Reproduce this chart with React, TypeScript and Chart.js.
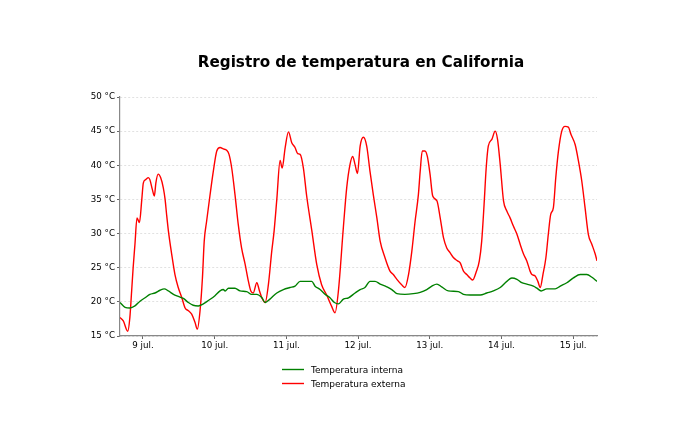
import { useEffect, useRef } from 'react';
import { Chart, registerables } from 'chart.js';

Chart.register(...registerables);

const titulo = 'Registro de temperatura en California';

// x values are hours since 9 jul. 00:00
const diasTicks = [0, 24, 48, 72, 96, 120, 144];
const diasEtiquetas = ['9 jul.', '10 jul.', '11 jul.', '12 jul.', '13 jul.', '14 jul.', '15 jul.'];

const yMin = 15;
const yMax = 50;
const yPaso = 5;

const internaHoras = [
  -7.7, -6.0, -4.4, -2.7, -1.0, 0.7, 2.3, 4.0, 5.7, 7.1, 8.5, 10.2, 11.8, 13.5, 15.2, 16.8, 18.5, 20.2, 21.9,
  24.1, 25.8, 26.9, 27.5, 28.6, 30.8, 32.5, 34.7, 36.4, 38.1, 39.8, 40.9, 42.5, 44.8, 47.0, 49.2, 50.9, 52.6,
  56.5, 57.6, 59.3, 61.0, 62.6, 64.1, 65.4, 67.1, 68.8, 71.0, 72.7, 74.3, 76.0, 77.7, 79.4, 81.6, 83.3, 85.0,
  87.7, 90.5, 92.8, 95.0, 96.7, 98.4, 100.0, 102.2, 105.6, 107.3, 109.5, 112.9, 115.1, 117.3, 119.6, 121.8,
  123.5, 125.2, 126.8, 128.5, 130.7, 131.9, 133.3, 135.2, 138.0, 139.7, 141.9, 144.1, 146.4, 148.6, 150.3, 152.0,
];
const internaTemp = [
  19.9, 19.2, 19.1, 19.4, 20.1, 20.6, 21.1, 21.3, 21.7, 21.9, 21.6, 21.1, 20.8, 20.5, 19.9, 19.5, 19.4, 19.7, 20.2,
  20.9, 21.6, 21.8, 21.6, 22.0, 22.0, 21.6, 21.5, 21.1, 21.1, 20.6, 19.9, 20.4, 21.3, 21.8, 22.1, 22.3, 23.0,
  23.0, 22.3, 21.8, 21.1, 20.6, 19.9, 19.7, 20.4, 20.6, 21.3, 21.8, 22.1, 23.0, 23.0, 22.6, 22.2, 21.8, 21.2,
  21.1, 21.2, 21.4, 21.8, 22.3, 22.6, 22.2, 21.6, 21.5, 21.1, 21.0, 21.0, 21.3, 21.6, 22.1, 23.0,
  23.5, 23.3, 22.8, 22.6, 22.3, 22.0, 21.6, 21.9, 21.9, 22.3, 22.8, 23.5, 24.0, 24.0, 23.6, 23.0,
];

const externaHoras = [
  -7.7, -6.6, -5.1, -4.4, -3.8, -3.3, -2.7, -2.0, -1.2, -0.4, 0.1, 0.9, 1.8, 2.3, 3.1, 3.8, 4.3, 5.1, 5.9, 6.8,
  7.4, 7.9, 8.5, 9.6, 10.7, 11.8, 13.0, 14.1, 15.2, 16.3, 17.4, 18.2, 19.1, 19.9, 20.5, 21.3, 22.4, 23.5,
  24.7, 25.8, 26.9, 28.0, 28.8, 29.7, 30.8, 31.9, 33.0, 34.2, 35.3, 36.1, 36.9, 38.1, 39.0, 39.8, 40.9, 42.0,
  43.1, 43.9, 44.8, 45.9, 46.6, 47.6, 48.7, 49.8, 50.9, 51.8, 52.6, 53.7, 54.8, 56.5, 58.2, 59.8, 61.5, 63.2,
  64.3, 65.4, 67.1, 68.2, 69.3, 70.2, 71.0, 71.8, 72.7, 73.8, 74.9, 76.0, 77.1, 78.3, 79.4, 81.0, 82.7, 83.8,
  85.0, 86.6, 87.7, 88.9, 90.0, 91.1, 92.2, 92.8, 93.5, 94.4, 95.2, 96.1, 97.0, 98.4, 99.5, 100.6, 101.7,
  102.8, 103.9, 105.3, 106.2, 107.3, 108.4, 109.5, 110.4, 111.5, 112.6, 113.4, 114.2, 114.9, 115.6, 116.8,
  117.9, 118.7, 119.6, 120.7, 121.8, 122.9, 124.0, 125.2, 126.3, 127.4, 128.5, 129.6, 130.2, 131.3, 132.2,
  133.0, 133.9, 134.9, 135.7, 136.5, 137.4, 138.2, 139.1, 140.2, 141.3, 142.4, 143.3, 144.7, 145.8, 146.9,
  148.0, 149.1, 150.3, 151.4, 152.0,
];
const externaTemp = [
  17.7, 17.2, 15.7, 17.7, 21.6, 25.0, 28.4, 32.3, 31.6, 35.0, 37.4, 37.9, 38.2, 37.9, 36.5, 35.5, 37.4, 38.7, 38.2, 36.7,
  35.0, 32.8, 30.4, 27.0, 24.0, 22.1, 20.6, 19.1, 18.7, 18.2, 17.0, 16.0, 18.7, 23.5, 28.9, 31.8, 35.5, 39.0,
  42.1, 42.6, 42.4, 42.2, 41.6, 39.6, 35.7, 31.3, 27.9, 25.5, 23.0, 21.6, 21.3, 22.8, 21.6, 20.6, 19.9, 22.6,
  27.4, 30.4, 35.0, 40.7, 39.6, 42.6, 44.9, 43.3, 42.6, 41.7, 41.6, 39.6, 35.5, 30.5, 25.4, 22.5, 21.0, 19.3,
  18.4, 21.5, 31.0, 36.7, 40.1, 41.3, 40.1, 38.8, 42.8, 44.1, 42.8, 39.1, 35.7, 32.3, 28.9, 26.5, 24.5, 24.0,
  23.3, 22.5, 22.1, 24.0, 27.4, 31.8, 35.7, 39.1, 42.1, 42.1, 41.3, 38.7, 35.5, 34.8, 32.3, 29.4, 27.9,
  27.2, 26.5, 26.0, 25.7, 24.5, 24.0, 23.5, 23.2, 24.3, 26.0, 28.9, 34.3, 39.6, 42.8, 43.8,
  45.0, 43.8, 40.1, 34.8, 33.3, 32.3, 31.1, 29.9, 28.4, 27.0, 26.0, 24.5, 24.0, 23.8, 23.0,
  22.1, 24.0, 26.5, 29.9, 32.8, 33.8, 38.2, 42.1, 45.0, 45.7, 45.6, 44.5, 43.0, 40.6, 37.7,
  33.8, 29.9, 28.4, 27.0, 26.0,
];

const series = [
  { label: 'Temperatura interna', horas: internaHoras, temp: internaTemp, color: '#008000' },
  { label: 'Temperatura externa', horas: externaHoras, temp: externaTemp, color: '#ff0000' },
];

const FONT = '"DejaVu Sans", sans-serif';

const tituloLeyenda = {
  id: 'tituloLeyenda',
  afterDraw(chart: any) {
    const ctx = chart.ctx;
    ctx.save();
    ctx.fillStyle = '#000';
    ctx.font = `bold 15.2px ${FONT}`;
    ctx.textAlign = 'center';
    ctx.textBaseline = 'alphabetic';
    ctx.fillText(titulo, 361, 66.5);

    ctx.font = `9px ${FONT}`;
    ctx.textAlign = 'left';
    chart.data.datasets.forEach((ds: any, i: number) => {
      const y = 369.5 + i * 14;
      ctx.strokeStyle = ds.borderColor;
      ctx.lineWidth = 1.4;
      ctx.beginPath();
      ctx.moveTo(282, y);
      ctx.lineTo(304, y);
      ctx.stroke();
      ctx.fillStyle = '#000';
      ctx.fillText(ds.label, 311, y + 3.2);
    });
    ctx.restore();
  },
};

export default function App() {
  const ref = useRef<HTMLCanvasElement>(null);

  useEffect(() => {
    if (!ref.current) return;
    const chart = new Chart(ref.current, {
      type: 'line',
      data: {
        datasets: series.map((s) => ({
          label: s.label,
          data: s.horas.map((h, i) => ({ x: h, y: s.temp[i] })),
          borderColor: s.color,
          backgroundColor: s.color,
          borderWidth: 1.4,
          pointRadius: 0,
          cubicInterpolationMode: 'monotone' as const,
          fill: false,
        })),
      },
      options: {
        animation: false,
        responsive: false,
        devicePixelRatio: 1,
        layout: { padding: { top: 97, right: 103, bottom: 80, left: 0 } },
        plugins: {
          legend: { display: false },
          title: { display: false },
          tooltip: { enabled: false },
        },
        scales: {
          x: {
            type: 'linear',
            min: -7.7,
            max: 152,
            afterBuildTicks: (s: any) => {
              s.ticks = diasTicks.map((v) => ({ value: v }));
            },
            afterFit: (s: any) => {
              s.height = 30;
            },
            ticks: {
              autoSkip: false,
              maxRotation: 0,
              padding: 2,
              color: '#000',
              font: { family: FONT, size: 8.7 },
              callback: (v: any) => {
                const idx = diasTicks.indexOf(Number(v));
                return idx >= 0 ? diasEtiquetas[idx] : '';
              },
            },
            grid: {
              drawOnChartArea: false,
              drawTicks: true,
              tickLength: 3,
              tickColor: '#666',
              tickWidth: 1,
            },
            border: { display: true, color: '#888', width: 1.2 },
          },
          y: {
            type: 'linear',
            min: yMin,
            max: yMax,
            afterFit: (s: any) => {
              s.width = 120;
            },
            ticks: {
              stepSize: yPaso,
              padding: 2,
              color: '#000',
              font: { family: FONT, size: 8.7 },
              callback: (v: any) => `${v} °C`,
            },
            grid: {
              color: 'rgba(0,0,0,0.15)',
              lineWidth: 0.8,
              drawTicks: true,
              tickLength: 3,
              tickColor: '#666',
              tickWidth: 1,
              tickBorderDash: [],
            },
            border: { display: true, color: '#888', width: 1.2, dash: [2, 2] },
          },
        },
      },
      plugins: [tituloLeyenda],
    } as any);
    return () => chart.destroy();
  }, []);

  return (
    <div style={{ position: 'fixed', left: 0, top: 0, width: 700, height: 446, background: '#fff' }}>
      <canvas ref={ref} width={700} height={446} style={{ width: 700, height: 446 }} />
    </div>
  );
}
